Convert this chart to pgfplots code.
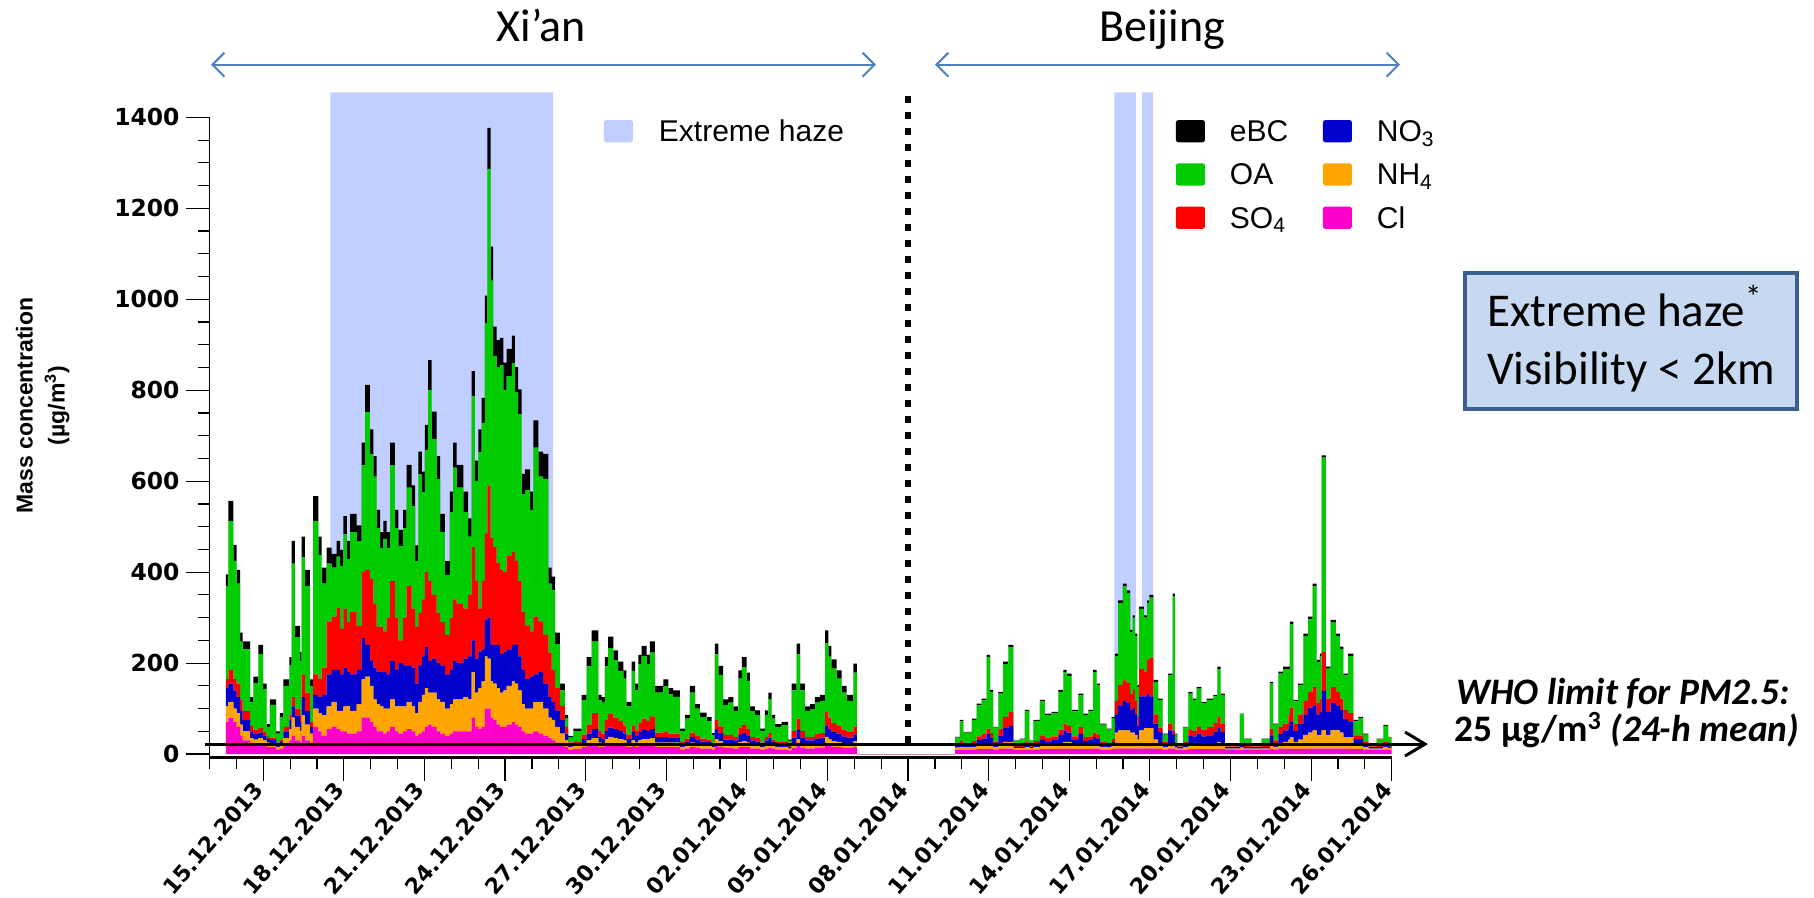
\documentclass[border=0pt]{standalone}
\usepackage{pgfplots}
\pgfplotsset{compat=1.18}
\usepackage{pgfplotstable}
\usepackage{fontspec}
\setmainfont{Liberation Sans}
\newfontfamily\carlito{Carlito}
\newfontfamily\dejavu{DejaVu Sans}
\usetikzlibrary{arrows.meta}

\definecolor{cBC}{RGB}{0,0,0}
\definecolor{cOA}{RGB}{0,204,0}
\definecolor{cSO}{RGB}{255,0,0}
\definecolor{cNO}{RGB}{0,0,204}
\definecolor{cNH}{RGB}{255,165,0}
\definecolor{cCl}{RGB}{255,0,204}
\definecolor{haze}{RGB}{192,207,255}
\definecolor{arrowblue}{RGB}{79,129,189}
\definecolor{boxfill}{RGB}{198,217,241}
\definecolor{boxline}{RGB}{60,96,142}

% time in days since 13.12.2013 00:00; species in ug/m3 (each value holds until the next time)
\pgfplotstableread{
t Cl NH4 NO3 SO4 OA BC
0.61 70 35 40 20 205 25
0.70 80 35 40 30 327 45
0.89 70 30 40 25 260 35
1.01 60 30 35 30 220 30
1.14 40 25 30 25 127 20
1.23 30 20 25 20 135 18
1.51 20 15 15 12 53 10
1.63 20 12 12 10 102 14
1.82 20 15 12 10 163 20
2.00 18 12 10 8 95 12
2.13 15 10 8 5 22 6
2.25 15 8 8 5 72 12
2.48 10 6 5 4 20 5
2.62 12 8 6 5 51 8
2.75 20 15 15 10 90 14
2.97 30 25 20 12 108 18
3.06 40 40 25 20 294 50
3.18 30 30 25 15 157 25
3.37 25 25 20 15 119 20
3.43 40 45 40 50 258 45
3.55 30 35 30 40 235 35
3.74 20 25 15 10 80 14
3.86 60 40 30 45 337 55
4.05 50 40 35 40 273 40
4.17 40 45 45 60 185 35
4.36 55 50 70 117 127 35
4.55 60 55 70 117 108 30
4.73 55 40 90 136 113 35
4.86 50 45 80 100 139 35
4.98 50 55 85 130 163 40
5.11 45 60 75 110 139 40
5.23 45 50 80 137 176 40
5.48 50 60 75 97 186 35
5.66 80 85 90 145 235 50
5.79 80 90 70 165 347 60
5.97 70 80 55 180 274 55
6.10 60 60 70 140 280 45
6.22 50 60 70 100 217 40
6.35 50 55 75 100 173 35
6.47 45 55 80 90 203 40
6.59 50 50 75 125 153 35
6.72 60 60 85 175 255 50
6.90 50 55 80 115 197 40
7.03 45 60 95 50 208 35
7.21 50 55 90 105 197 40
7.34 55 60 80 175 216 50
7.52 50 55 85 130 226 45
7.65 40 50 65 125 144 35
7.77 45 70 80 115 305 50
7.90 50 80 85 125 236 45
8.02 60 85 90 165 269 55
8.14 65 70 70 175 421 65
8.27 60 75 75 140 343 60
8.45 50 70 80 110 295 50
8.58 45 70 80 95 198 40
8.76 40 60 75 87 132 30
8.95 45 65 75 115 232 45
9.07 50 70 85 135 290 55
9.20 50 70 80 130 256 50
9.45 50 75 85 110 212 45
9.63 50 70 95 135 128 40
9.76 80 100 70 205 332 55
9.88 60 75 75 170 220 45
10.01 55 90 80 95 344 50
10.13 60 100 70 150 348 55
10.25 100 115 80 190 463 60
10.34 100 110 90 290 697 90
10.46 80 80 80 235 566 75
10.56 75 80 85 215 420 65
10.69 65 80 95 180 430 60
10.81 60 75 85 185 450 60
10.94 60 80 85 175 401 60
11.06 65 85 80 205 396 60
11.25 70 90 80 205 415 60
11.37 65 90 85 185 371 55
11.49 60 80 75 165 367 55
11.62 50 60 75 127 259 45
11.74 45 55 65 118 298 45
11.93 45 55 70 100 267 40
12.05 50 65 60 127 372 60
12.24 45 70 65 112 318 55
12.42 40 60 55 107 343 55
12.61 35 45 45 98 152 35
12.73 30 45 40 70 175 30
12.86 25 35 36 49 97 25
13.04 20 25 30 31 34 15
13.23 15 15 15 15 18 8
13.35 10 6 5 4 11 4
13.54 12 6 5 4 24 5
13.85 15 8 10 10 75 12
14.04 18 12 15 20 128 20
14.22 20 15 20 35 157 25
14.47 15 10 12 15 66 12
14.59 15 8 10 12 68 12
14.72 18 15 18 25 117 20
14.84 20 18 20 30 145 25
15.03 20 15 20 25 126 22
15.21 18 15 18 22 110 20
15.40 18 12 15 18 103 18
15.52 15 8 10 10 62 10
15.71 18 12 18 15 120 20
15.84 15 10 15 12 88 15
15.96 18 12 18 20 130 20
16.08 18 15 20 25 138 22
16.27 18 15 18 22 125 20
16.39 20 15 20 28 140 25
16.58 15 10 12 10 88 15
16.89 15 10 12 12 100 15
17.08 15 10 10 10 86 14
17.26 15 10 10 10 81 14
17.51 10 6 6 5 24 5
17.70 12 8 8 6 44 8
17.88 15 10 12 10 88 15
18.07 14 8 10 8 60 10
18.25 12 8 8 6 48 9
18.50 12 6 8 6 41 8
18.69 10 5 5 4 18 4
18.81 18 15 22 20 144 24
18.94 16 12 18 15 113 20
19.12 14 8 10 10 66 12
19.31 14 8 10 10 71 12
19.50 12 8 10 8 57 10
19.68 15 12 15 15 109 18
19.81 16 12 18 18 127 22
19.99 15 10 15 15 106 18
20.11 12 8 10 8 57 10
20.30 12 8 8 8 50 10
20.49 10 5 5 5 26 5
20.67 12 8 10 8 48 10
20.80 14 10 12 10 75 14
20.92 12 6 8 6 46 8
21.05 10 6 6 5 33 6
21.29 10 6 6 5 37 7
21.54 8 4 4 3 10 3
21.67 14 10 12 15 89 15
21.85 18 15 20 25 141 24
21.98 14 10 12 15 89 15
22.16 12 8 10 8 57 10
22.35 12 8 10 8 61 11
22.53 14 8 12 10 69 12
22.72 14 10 12 10 71 13
22.91 20 18 25 30 151 28
23.03 18 15 22 25 134 24
23.15 16 12 20 20 120 20
23.34 15 12 18 18 103 18
23.53 14 10 15 15 81 15
23.71 14 10 12 12 69 13
23.96 16 12 15 18 118 20
24.09 0 0 0 0 0 0
27.75 10 4 4 3 15 2
27.93 10 6 8 5 43 3
28.06 10 5 5 4 23 2
28.37 10 6 8 5 46 3
28.55 11 8 12 8 68 4
28.74 11 8 15 10 74 4
28.92 12 12 20 12 157 5
29.05 11 10 15 10 91 4
29.17 10 5 6 5 32 2
29.36 11 10 20 15 77 4
29.54 12 15 30 25 116 5
29.73 12 15 35 30 143 5
29.92 10 3 3 3 11 1
30.16 10 3 3 3 14 1
30.35 10 5 6 5 68 3
30.51 10 3 3 3 11 1
30.66 10 5 8 6 44 2
30.91 11 8 12 10 75 3
31.09 11 6 10 8 51 3
31.34 11 8 12 8 51 3
31.59 12 12 18 12 83 4
31.78 12 15 25 15 113 5
31.90 12 15 20 15 110 5
32.09 11 8 12 8 55 3
32.34 12 12 20 15 70 4
32.52 11 8 10 8 49 3
32.71 11 8 12 8 55 3
32.89 12 10 15 10 133 5
33.02 12 10 12 8 109 4
33.14 10 6 6 5 38 2
33.39 10 5 5 4 30 2
33.58 11 8 8 6 46 3
33.70 12 35 40 30 99 5
33.82 12 40 55 45 180 6
33.99 12 40 65 45 207 6
34.13 12 40 60 45 197 6
34.26 12 35 50 35 136 5
34.36 12 35 55 40 158 5
34.44 12 30 45 30 143 5
34.53 12 20 30 20 66 4
34.60 12 40 75 60 132 5
34.78 12 45 70 55 118 5
34.90 12 45 75 75 125 6
34.98 12 45 70 85 132 6
35.13 12 20 35 20 72 4
35.31 11 12 25 10 61 3
35.47 10 5 8 5 15 2
35.68 12 10 30 15 106 4
35.85 12 10 20 10 296 5
35.93 10 4 5 4 20 2
36.02 9 3 3 2 5 1
36.24 10 5 6 5 32 2
36.43 11 10 20 12 80 4
36.59 11 10 18 12 68 3
36.74 11 12 22 15 84 4
36.92 11 10 18 15 58 3
37.11 11 10 20 18 60 3
37.36 11 12 25 20 59 3
37.51 12 15 30 25 105 5
37.63 11 12 25 18 64 3
37.79 9 3 3 2 5 1
38.23 9 3 3 2 2 1
38.35 10 4 4 4 65 2
38.50 9 3 3 3 15 1
38.79 9 3 3 2 5 1
39.16 9 3 3 3 15 1
39.47 11 10 20 15 99 4
39.59 10 6 8 6 35 2
39.78 12 12 20 15 118 4
39.96 12 15 25 15 120 5
40.15 12 20 30 25 100 5
40.21 12 25 35 30 183 6
40.34 11 15 25 15 50 3
40.52 12 20 35 20 64 4
40.71 12 30 45 30 143 5
40.89 12 35 55 35 159 6
41.06 12 40 55 40 222 6
41.21 12 30 45 25 90 5
41.33 12 30 50 30 94 5
41.39 12 40 87 85 428 5
41.55 12 30 50 30 66 4
41.73 12 40 60 35 142 6
41.92 12 40 55 30 123 5
42.07 12 35 50 25 109 5
42.20 12 25 40 20 76 4
42.38 12 25 35 18 126 5
42.57 11 10 12 8 31 3
42.76 11 10 12 8 38 3
42.94 10 5 6 5 17 2
43.13 9 3 3 2 2 1
43.44 9 3 4 3 14 1
43.69 10 5 6 5 36 2
43.87 9 4 4 3 17 1
44.00 9 4 4 3 17 1
}\mixdata

\pgfplotsset{
  panel/.style={
    width=591.1pt, height=320.15pt, scale only axis,
    xmin=0, xmax=44, ymin=-8, ymax=1400,
    at={(0pt,0pt)}, anchor=south west,
  },
  swatch/.style={
    legend image code/.code={\fill[##1, rounded corners=1.2pt] (0pt,-0.3pt) rectangle (14.5pt,10.8pt);},
  },
}

\begin{document}
\begin{tikzpicture}
\path[use as bounding box] (-104.75pt,-70.15pt) rectangle (802.25pt,378.85pt);

% extreme-haze periods behind the data
\begin{axis}[panel, hide axis, clip=false, swatch,
  legend style={draw=none, fill=none, inner sep=0pt, outer sep=0pt,
    at={(axis cs:14.68,1395)}, anchor=north west,
    font=\fontsize{15}{18}\selectfont,
    nodes={inner sep=0pt, anchor=base west, text height=11pt, text depth=3pt},
    /tikz/every odd column/.append style={column sep=13pt}}]
\addplot[fill=haze, draw=none] coordinates {(4.50,0) (4.50,1455) (12.79,1455) (12.79,0)} \closedcycle;
\addlegendentry{Extreme haze}
\addplot[fill=haze, draw=none, forget plot] coordinates {(33.68,0) (33.68,1455) (34.48,1455) (34.48,0)} \closedcycle;
\addplot[fill=haze, draw=none, forget plot] coordinates {(34.70,0) (34.70,1455) (35.12,1455) (35.12,0)} \closedcycle;
\end{axis}

% stacked composition
\begin{axis}[panel, stack plots=y, swatch,
  axis x line*=bottom, axis y line*=left,
  x axis line style={line width=1.3pt},
  y axis line style={line width=0.7pt},
  tick align=outside,
  tick style={black, line width=0.6pt},
  major tick length=11.5pt, minor tick length=5.5pt,
  ytick={0,200,...,1400}, minor y tick num=3,
  xtick={2,5,...,44}, minor xtick={0,...,44},
  xticklabels={15.12.2013,18.12.2013,21.12.2013,24.12.2013,27.12.2013,30.12.2013,02.01.2014,05.01.2014,08.01.2014,11.01.2014,14.01.2014,17.01.2014,20.01.2014,23.01.2014,26.01.2014},
  /pgf/number format/assume math mode=true,
  /pgf/number format/1000 sep={},
  yticklabel style={font=\dejavu\bfseries\fontsize{11.7}{13}\selectfont},
  xticklabel style={font=\dejavu\bfseries\fontsize{11}{13}\selectfont, rotate=49, anchor=east},
  ylabel={Mass concentration\\(µg/m\textsuperscript{3})},
  ylabel style={align=center, font=\bfseries\fontsize{11.5}{16}\selectfont,
    at={(axis description cs:-0.141,0.55)}, anchor=center},
  legend columns=2,
  legend style={draw=none, fill=none, inner sep=0pt, outer sep=0pt,
    at={(axis cs:35.97,1395)}, anchor=north west,
    font=\fontsize{15}{18}\selectfont, row sep=7.65pt,
    nodes={inner sep=0pt, anchor=base west, text height=11pt, text depth=3pt},
    /tikz/every odd column/.append style={column sep=12.5pt},
    /tikz/every even column/.append style={column sep=17.3pt}},
]
\addplot[const plot, fill=cCl, draw=none, forget plot] table[x=t, y=Cl] {\mixdata} \closedcycle;
\addplot[const plot, fill=cNH, draw=none, forget plot] table[x=t, y=NH4] {\mixdata} \closedcycle;
\addplot[const plot, fill=cNO, draw=none, forget plot] table[x=t, y=NO3] {\mixdata} \closedcycle;
\addplot[const plot, fill=cSO, draw=none, forget plot] table[x=t, y=SO4] {\mixdata} \closedcycle;
\addplot[const plot, fill=cOA, draw=none, forget plot] table[x=t, y=OA] {\mixdata} \closedcycle;
\addplot[const plot, fill=cBC, draw=none, forget plot] table[x=t, y=BC] {\mixdata} \closedcycle;
\addlegendimage{fill=cBC, draw=none}\addlegendentry{eBC}
\addlegendimage{fill=cNO, draw=none}\addlegendentry{NO\textsubscript{3}}
\addlegendimage{fill=cOA, draw=none}\addlegendentry{OA}
\addlegendimage{fill=cNH, draw=none}\addlegendentry{NH\textsubscript{4}}
\addlegendimage{fill=cSO, draw=none}\addlegendentry{SO\textsubscript{4}}
\addlegendimage{fill=cCl, draw=none}\addlegendentry{Cl}
\end{axis}

% city separator and WHO 24-h guideline
\begin{axis}[panel, hide axis, clip=false]
\addplot[black, line width=3.4pt, dash pattern=on 3.4pt off 4.6pt] coordinates {(26,25) (26,1455)};
\addplot[black, line width=1.5pt, -{Straight Barb[length=10pt,width=12pt]}] coordinates {(-0.17,22) (45.35,22)};
\end{axis}

% city headers
\node[font=\carlito\fontsize{23}{28}\selectfont, anchor=base] at (165.75pt,357.85pt) {Xi’an};
\node[font=\carlito\fontsize{23}{28}\selectfont, anchor=base] at (476.25pt,357.85pt) {Beijing};
\draw[arrowblue, line width=1pt, {Straight Barb[length=6pt,width=12pt]}-{Straight Barb[length=6pt,width=12pt]}] (0.75pt,346.5pt) -- (333.25pt,346.5pt);
\draw[arrowblue, line width=1pt, {Straight Barb[length=6pt,width=12pt]}-{Straight Barb[length=6pt,width=12pt]}] (362.75pt,346.5pt) -- (595.25pt,346.5pt);

% definition box
\draw[boxline, fill=boxfill, line width=2pt] (627.9pt,174.5pt) rectangle (793.9pt,242.5pt);
\node[font=\carlito\fontsize{23.5}{28}\selectfont, anchor=base west, inner sep=0pt] at (638.6pt,215.5pt) {Extreme haze\textsuperscript{*}};
\node[font=\carlito\fontsize{23.5}{28}\selectfont, anchor=base west, inner sep=0pt] at (638.6pt,186.35pt) {Visibility < 2km};

% WHO annotation
\node[font=\carlito\bfseries\itshape\fontsize{18.7}{22}\selectfont, anchor=base west, inner sep=0pt] at (623.25pt,26.35pt) {WHO limit for PM2.5:};
\node[font=\carlito\bfseries\fontsize{18.7}{22}\selectfont, anchor=base west, inner sep=0pt] at (622.5pt,8pt) {25 µg/m\textsuperscript{3} \itshape(24-h mean)};
\end{tikzpicture}
\end{document}
